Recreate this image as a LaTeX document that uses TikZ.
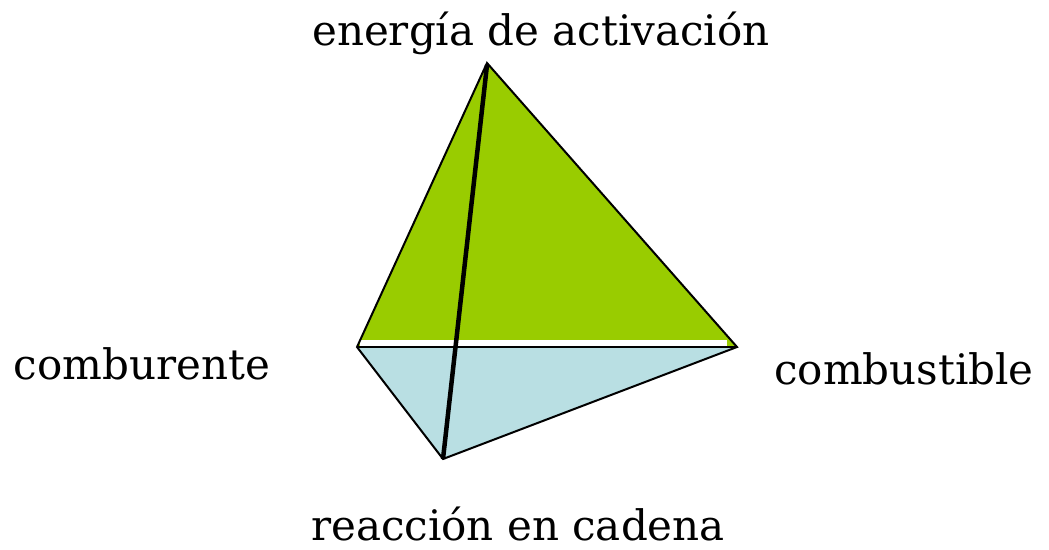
\documentclass[tikz,border=0pt]{standalone}
\usepackage{fontspec}
\setmainfont{DejaVu Serif}
\usetikzlibrary{calc}
\definecolor{greenface}{RGB}{153,204,0}
\definecolor{blueface}{RGB}{185,223,227}
\newcommand{\edgewidth}{2pt}
\newcommand{\axiswidth}{4.5pt}
\tikzset{vertexlabel/.style={anchor=base, inner sep=0pt, font=\fontsize{42}{48}\selectfont}}

\begin{document}
\begin{tikzpicture}[x=1pt,y=-1pt]
\useasboundingbox (0,0) rectangle (1049,549);
\coordinate (top) at (487,63);
\coordinate (left) at (357,347);
\coordinate (right) at (737,347);
\coordinate (bottom) at (443,459);
%faces
\fill[greenface] (top) -- (left) -- (right) -- cycle;
\fill[blueface] (left) -- (right) -- (bottom) -- cycle;
\fill[white] ($(left)+(3,-7)$) rectangle ($(right)+(-10,-1)$);
%edges
\draw[line width=\edgewidth, line join=miter] (top) -- (left) -- (bottom) -- (right) -- cycle;
\draw[line width=\edgewidth] (left) -- (right);
\draw[line width=\axiswidth] ($(top)+(0,2)$) -- (bottom);
%labels
\node[vertexlabel] (heat) at (541,45) {energía de activación};
\node[vertexlabel] (oxygen) at (142,379) {comburente};
\node[vertexlabel] (fuel) at (904,384) {combustible};
\node[vertexlabel] (chain) at (518,540) {reacción en cadena};
\end{tikzpicture}
\end{document}
